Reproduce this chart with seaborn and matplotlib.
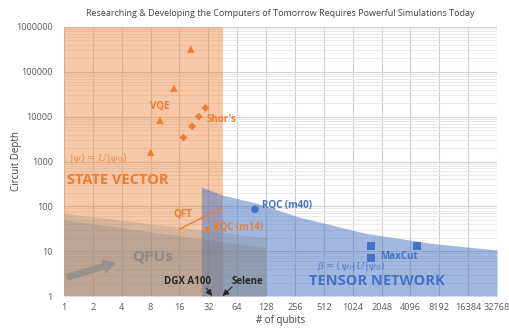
import numpy as np
import pandas as pd
import matplotlib
matplotlib.use("Agg")
import matplotlib.pyplot as plt
from matplotlib.ticker import FixedLocator, LogLocator, NullFormatter
import seaborn as sns

# ---- data ----
vqe_qubits = [8, 10, 14, 21]
vqe_depth = [1600, 8300, 43000, 320000]
shor_qubits = [17.6, 21.7, 25.4, 29.8]
shor_depth = [3400, 6100, 10000, 15700]
rqc14_qubits = [31.5]
rqc14_depth = [31]
rqc40_qubits = [98]
rqc40_depth = [86]
maxcut_qubits = [1600, 1600, 4800]
maxcut_depth = [13, 7.2, 13]
qft_qubits = [16, 44]
qft_depth = [31, 91]

state_vector_limit = 45
tn_edge_qubits = [27, 45, 100, 280, 1400, 6700, 32768]
tn_edge_depth = [270, 178, 119, 58, 25, 15, 10.6]
qpu_outer_qubits = [1, 128]
qpu_outer_depth = [70, 20]
qpu_inner_qubits = [1, 128]
qpu_inner_depth = [50, 12]
dgx_qubits = 35
selene_qubits = 45

x_ticks = [2 ** k for k in range(16)]
y_ticks = [10 ** k for k in range(7)]

ORANGE = "#ED7D31"
BLUE = "#4472C4"
GRAY = "#7F7F7F"

sns.set_theme(style="white")
plt.rcParams["font.family"] = ["Open Sans", "DejaVu Sans"]
plt.rcParams["mathtext.fontset"] = "dejavuserif"

fig = plt.figure(figsize=(5.10, 3.31), dpi=100)
ax = fig.add_axes([64 / 510, 1 - 296 / 331, (497 - 64) / 510, (296 - 27) / 331])
ax.set_xscale("log", base=2)
ax.set_yscale("log", base=10)
ax.set_xlim(1, 32768)
ax.set_ylim(1, 1e6)

# grid
ax.xaxis.set_major_locator(FixedLocator(x_ticks))
ax.xaxis.set_minor_locator(FixedLocator([]))
ax.yaxis.set_major_locator(FixedLocator(y_ticks))
ax.yaxis.set_minor_locator(LogLocator(base=10, subs=np.arange(2, 10)))
ax.yaxis.set_minor_formatter(NullFormatter())
ax.grid(which="major", axis="both", color="#D0D0D0", lw=0.8, zorder=0)
ax.grid(which="minor", axis="y", color="#E6E6E6", lw=0.6, zorder=0)
ax.set_axisbelow(True)
ax.set_xticklabels([str(v) for v in x_ticks])
ax.set_yticklabels([str(v) for v in y_ticks])
ax.tick_params(axis="both", which="both", length=0, labelsize=6.6, colors="#595959")
ax.tick_params(axis="y", pad=8)
ax.tick_params(axis="x", pad=5)
for s in ax.spines.values():
    s.set_visible(False)
ax.axhline(1, color="#BFBFBF", lw=0.8, zorder=1)

# state-vector region
ax.axvspan(1, state_vector_limit, color=ORANGE, alpha=0.42, lw=0, zorder=1)

# tensor-network region
ax.fill_between(tn_edge_qubits, 1, tn_edge_depth, color=BLUE, alpha=0.5, lw=0, zorder=2)

# QPU regions
ax.fill_between(qpu_outer_qubits, 1, qpu_outer_depth, color=GRAY, alpha=0.25, lw=0, zorder=3)
ax.fill_between(qpu_inner_qubits, 1, qpu_inner_depth, color=GRAY, alpha=0.3, lw=0, zorder=3)

# QFT line
qft = pd.DataFrame({"qubits": qft_qubits, "depth": qft_depth})
sns.lineplot(data=qft, x="qubits", y="depth", color=ORANGE, lw=1.0, ax=ax, zorder=5)

# markers
sns.scatterplot(x=vqe_qubits, y=vqe_depth, marker="^", s=28, color=ORANGE, edgecolor="none", ax=ax, zorder=6)
sns.scatterplot(x=shor_qubits, y=shor_depth, marker="D", s=16, color=ORANGE, edgecolor="none", ax=ax, zorder=6)
sns.scatterplot(x=rqc14_qubits, y=rqc14_depth, marker="s", s=14, color=ORANGE, edgecolor="none", ax=ax, zorder=6)
sns.scatterplot(x=rqc40_qubits, y=rqc40_depth, marker="o", s=30, color=BLUE, edgecolor="none", ax=ax, zorder=6)
sns.scatterplot(x=maxcut_qubits, y=maxcut_depth, marker="s", s=34, color=BLUE, edgecolor="none", ax=ax, zorder=6)

# labels
ax.text(9.9, 17400, "VQE", color=ORANGE, fontsize=7, fontweight="bold", ha="center", va="center", zorder=7)
ax.text(30.5, 8500, "Shor's", color=ORANGE, fontsize=7, fontweight="bold", ha="left", va="center", zorder=7)
ax.text(1.12, 1200, r"$|\psi\rangle = U|\psi_0\rangle$", color=ORANGE, fontsize=7.5, alpha=0.8,
        ha="left", va="center", zorder=7)
ax.text(1.08, 390, "STATE VECTOR", color=ORANGE, fontsize=10.5, fontweight="bold", ha="left", va="center", zorder=7)
ax.text(17.2, 68, "QFT", color=ORANGE, fontsize=7, fontweight="bold", ha="center", va="center", zorder=7)
ax.text(35.5, 35, "RQC (m14)", color=ORANGE, fontsize=7, fontweight="bold", ha="left", va="center", zorder=7)
ax.text(116, 107, "RQC (m40)", color=BLUE, fontsize=7, fontweight="bold", ha="left", va="center", zorder=7)
ax.text(8.4, 7.8, "QPUs", color="#8C8C8C", fontsize=11, fontweight="bold", ha="center", va="center", zorder=7)
ax.text(2000, 7.8, "MaxCut", color=BLUE, fontsize=7, fontweight="bold", ha="left", va="center", zorder=7)
ax.text(1000, 4.7, r"$\beta = \langle\psi_r|U|\psi_0\rangle$", color=BLUE, fontsize=7.5, alpha=0.8,
        ha="center", va="center", zorder=7)
ax.text(1820, 2.16, "TENSOR NETWORK", color=BLUE, fontsize=10.5, fontweight="bold", ha="center", va="center", zorder=7)
ax.text(19.4, 2.16, "DGX A100", color="#262626", fontsize=7, fontweight="bold", ha="center", va="center", zorder=7)
ax.text(81, 2.16, "Selene", color="#262626", fontsize=7, fontweight="bold", ha="center", va="center", zorder=7)

# QPU growth arrow
ax.annotate("", xy=(3.7, 5.7), xytext=(1.0, 2.5),
            arrowprops=dict(arrowstyle="simple,head_width=1.1,head_length=0.9,tail_width=0.5",
                            mutation_scale=10, color="#8C8C8C", alpha=0.75, lw=0),
            zorder=7)

# system pointers
ax.annotate("", xy=(dgx_qubits, 1.0), xytext=(30.5, 1.5),
            arrowprops=dict(arrowstyle="-|>,head_width=0.15,head_length=0.3", color="#262626", lw=0.8,
                            shrinkA=0, shrinkB=0), annotation_clip=False, zorder=8)
ax.annotate("", xy=(selene_qubits, 1.0), xytext=(56.8, 1.6),
            arrowprops=dict(arrowstyle="-|>,head_width=0.15,head_length=0.3", color="#262626", lw=0.8,
                            shrinkA=0, shrinkB=0), annotation_clip=False, zorder=8)

ax.set_xlabel("# of qubits", fontsize=7, color="#404040", labelpad=2)
ax.set_ylabel("Circuit Depth", fontsize=7, color="#404040")
ax.yaxis.set_label_coords((22 - 64) / 433, 0.5)
ax.set_title("Researching & Developing the Computers of Tomorrow Requires Powerful Simulations Today",
             fontsize=6.5, color="#404040", pad=8)

fig.savefig("out.png", dpi=100)
